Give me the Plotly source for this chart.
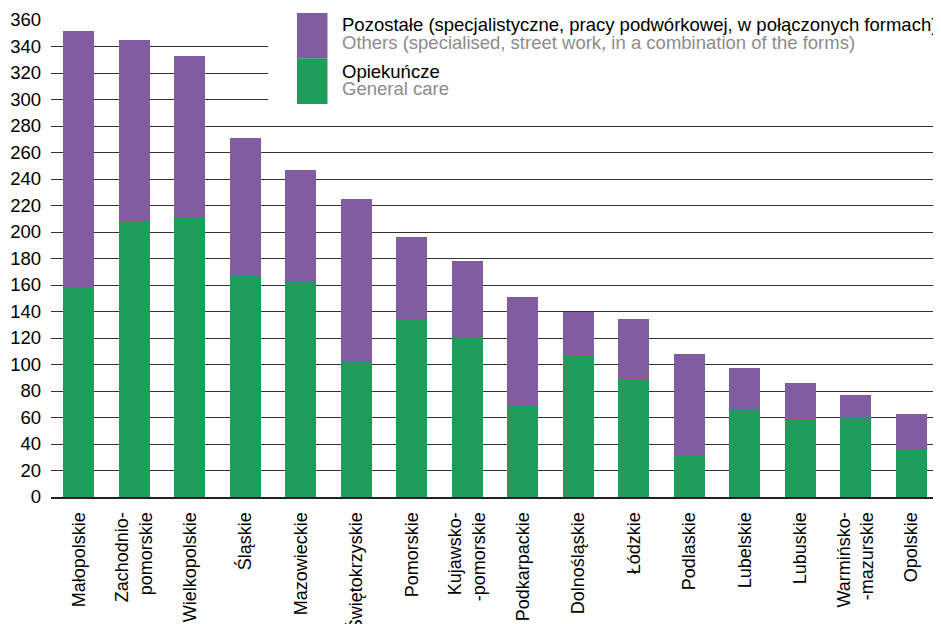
import plotly.graph_objects as go

regions = ["Małopolskie", "Zachodnio-<br>pomorskie", "Wielkopolskie", "Śląskie", "Mazowieckie",
           "Świętokrzyskie", "Pomorskie", "Kujawsko-<br>-pomorskie", "Podkarpackie", "Dolnośląskie",
           "Łódzkie", "Podlaskie", "Lubelskie", "Lubuskie", "Warmińsko-<br>-mazurskie", "Opolskie"]
general_care = [158, 208, 211, 167, 162, 102, 134, 121, 69, 107, 89, 31, 66, 59, 60, 36]
others = [194, 137, 122, 104, 85, 123, 62, 57, 82, 33, 45, 77, 31, 27, 17, 27]
y_ticks = list(range(0, 361, 20))

PURPLE = "#825CA1"
GREEN = "#1E9C5A"
FONT = "Liberation Sans, Arial, sans-serif"
FS = 18.5

OFF = 8  # page body margin
W, H = 941 - OFF, 624 - OFF
L, R, T, B = 51 - OFF, 2, 20 - OFF, 127
pw, ph = W - L - R, H - T - B


def px(x):
    return (x - OFF - L) / pw


def py(y):
    return (H - B - (y - OFF)) / ph


fig = go.Figure()
fig.add_trace(go.Bar(x=regions, y=general_care, marker_color=GREEN, marker_line_width=0,
                     name="Opiekuńcze", showlegend=False))
fig.add_trace(go.Bar(x=regions, y=others, marker_color=PURPLE, marker_line_width=0,
                     name="Pozostałe", showlegend=False))

shapes = [
    dict(type="rect", xref="paper", yref="paper", x0=px(268), x1=px(945), y0=py(0), y1=py(112),
         fillcolor="white", line_width=0, layer="above"),
    dict(type="rect", xref="paper", yref="paper", x0=px(297), x1=px(327.5), y0=py(13), y1=py(58.3),
         fillcolor=PURPLE, line_width=0, layer="above"),
    dict(type="rect", xref="paper", yref="paper", x0=px(297), x1=px(327.5), y0=py(58.3), y1=py(104),
         fillcolor=GREEN, line_width=0, layer="above"),
]

legend_texts = [
    ("Pozostałe (specjalistyczne, pracy podwórkowej, w połączonych formach)", "#000000", 25),
    ("Others (specialised, street work, in a combination of the forms)", "#8c8c8c", 43),
    ("Opiekuńcze", "#000000", 71.5),
    ("General care", "#8c8c8c", 89),
]
annotations = [
    dict(text=t, x=px(340), y=py(yy), xref="paper", yref="paper", xanchor="left", yanchor="middle",
         showarrow=False, font=dict(family=FONT, size=FS, color=c))
    for t, c, yy in legend_texts
]

fig.update_layout(
    width=W, height=H,
    margin=dict(l=L, r=R, t=T, b=B, pad=0, autoexpand=False),
    paper_bgcolor="white", plot_bgcolor="white",
    barmode="stack", bargap=0.44,
    font=dict(family=FONT, size=FS, color="#000000"),
    shapes=shapes, annotations=annotations,
    showlegend=False,
)
fig.update_xaxes(tickangle=-90, showgrid=False, showline=True, linecolor="#222222", linewidth=2,
                 ticks="", ticklabelstandoff=6, automargin=False,
                 tickfont=dict(size=18, color="#000000"))
fig.update_yaxes(range=[0, 360], tickvals=y_ticks, showgrid=True, gridcolor="#333333", gridwidth=1,
                 zeroline=False, showline=False, ticks="", ticklabelstandoff=9, automargin=False,
                 tickfont=dict(size=FS, color="#000000"))

fig.write_html("out.html")
